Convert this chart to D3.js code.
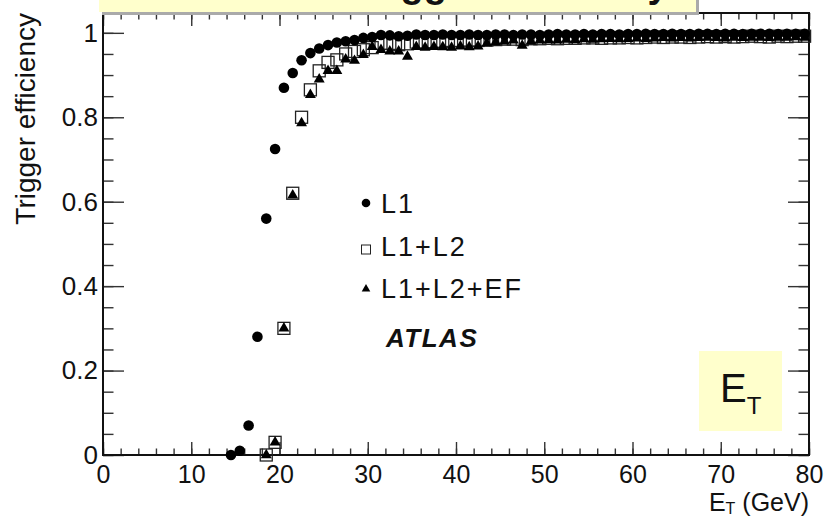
<!DOCTYPE html>
<html>
<head>
<meta charset="utf-8">
<script src="https://cdn.jsdelivr.net/npm/d3@7"></script>
<style>
  body { margin: 0; background: #fff; }
  svg text { font-family: "Liberation Sans", Arial, sans-serif; fill: #111; }
</style>
</head>
<body>
<div id="chart"></div>
<script>
// trigger efficiency vs E_T, 1 GeV bins
let l1Start = 14.5;
let l1Values = [0.0, 0.01, 0.07, 0.28, 0.56, 0.725, 0.87, 0.905, 0.935, 0.952,
  0.963, 0.971, 0.977, 0.98, 0.983, 0.988, 0.99, 0.995, 0.994, 0.992,
  0.993, 0.996, 0.995, 0.995, 0.996, 0.995,
  0.995, 0.996, 0.995, 0.995, 0.996, 0.996, 0.995, 0.996, 0.996, 0.995,
  0.996, 0.997, 0.996, 0.996, 0.997, 0.996, 0.997, 0.997, 0.996, 0.997,
  0.997, 0.998, 0.997, 0.997, 0.998, 0.997, 0.997, 0.998, 0.998, 0.997,
  0.998, 0.998, 0.997, 0.998, 0.998, 0.998, 0.997, 0.998, 0.998, 0.998];

let l2Start = 18.5;
let l2Values = [0.0, 0.03, 0.30, 0.62, 0.80, 0.865, 0.91, 0.93, 0.936, 0.95,
  0.956, 0.96, 0.965, 0.975, 0.975, 0.972, 0.974, 0.978, 0.977, 0.979,
  0.98, 0.982,
  0.981, 0.983, 0.982, 0.983, 0.984, 0.985, 0.985, 0.984, 0.986, 0.986,
  0.987, 0.986, 0.987, 0.987, 0.988, 0.988, 0.987, 0.988, 0.988, 0.989,
  0.988, 0.989, 0.99, 0.989, 0.99, 0.99, 0.989, 0.99, 0.991, 0.99,
  0.991, 0.99, 0.991, 0.992, 0.991, 0.99, 0.992, 0.991, 0.992, 0.992];

let efStart = 18.5;
let efValues = [0.0, 0.03, 0.30, 0.615, 0.786, 0.853, 0.89, 0.91, 0.91, 0.937,
  0.934, 0.948, 0.967, 0.96, 0.956, 0.956, 0.944, 0.967, 0.965, 0.967,
  0.966, 0.965,
  0.968, 0.966, 0.968, 0.975, 0.978, 0.98, 0.982, 0.97, 0.98, 0.982,
  0.983, 0.982, 0.984, 0.983, 0.985, 0.984, 0.985, 0.986, 0.985, 0.986,
  0.987, 0.986, 0.987, 0.988, 0.987, 0.988, 0.987, 0.988, 0.989, 0.988,
  0.987, 0.989, 0.988, 0.989, 0.989, 0.988, 0.989, 0.989, 0.99, 0.989];

let xMajor = [0, 10, 20, 30, 40, 50, 60, 70, 80];
let xMinor = d3.range(0, 81, 2);
let yMajor = [0, 0.2, 0.4, 0.6, 0.8, 1];
let yMinor = d3.range(0, 1.05, 0.05);
let legendLabels = ['L1', 'L1+L2', 'L1+L2+EF'];

function toPoints(start, values) {
  return values.map(function(v, i) { return { et: start + i, eff: v }; });
}

let margin = { top: 13, right: 18, bottom: 62, left: 103 };
let width = 827 - margin.left - margin.right;
let height = 517 - margin.top - margin.bottom;

let svg = d3.select('#chart')
  .append('svg')
  .attr('width', 827)
  .attr('height', 517);

let g = svg.append('g')
  .attr('transform', 'translate(' + margin.left + ', ' + margin.top + ')');

let x = d3.scaleLinear().domain([0, 80]).range([0, width]);
let y = d3.scaleLinear().domain([0, 1.047]).range([height, 0]);

// minor ticks, all four sides
function styleAxis(sel) {
  sel.select('.domain').remove();
  sel.selectAll('line').attr('stroke', '#333').attr('stroke-width', 1.4);
}

g.append('g').attr('transform', 'translate(0,' + height + ')')
  .call(d3.axisBottom(x).tickValues(xMinor).tickSize(-6.5).tickFormat(''))
  .call(styleAxis);
g.append('g')
  .call(d3.axisTop(x).tickValues(xMinor).tickSize(-6.5).tickFormat(''))
  .call(styleAxis);
g.append('g')
  .call(d3.axisLeft(y).tickValues(yMinor).tickSize(-10.5).tickFormat(''))
  .call(styleAxis);
g.append('g').attr('transform', 'translate(' + width + ',0)')
  .call(d3.axisRight(y).tickValues(yMinor).tickSize(-10.5).tickFormat(''))
  .call(styleAxis);

// major ticks
let xAxis = g.append('g').attr('transform', 'translate(0,' + height + ')')
  .call(d3.axisBottom(x).tickValues(xMajor).tickSize(-13).tickPadding(10).tickFormat(d3.format('d')))
  .call(styleAxis);
xAxis.selectAll('text').attr('font-size', '25px').attr('fill', '#111');
g.append('g')
  .call(d3.axisTop(x).tickValues(xMajor).tickSize(-13).tickFormat(''))
  .call(styleAxis);

let yAxis = g.append('g')
  .call(d3.axisLeft(y).tickValues(yMajor).tickSize(-21).tickPadding(5).tickFormat(function(d) { return d3.format('~g')(d); }))
  .call(styleAxis);
yAxis.selectAll('text').attr('font-size', '26px').attr('fill', '#111');
g.append('g').attr('transform', 'translate(' + width + ',0)')
  .call(d3.axisRight(y).tickValues(yMajor).tickSize(-21).tickFormat(''))
  .call(styleAxis);

// frame
g.append('rect')
  .attr('width', width)
  .attr('height', height)
  .attr('fill', 'none')
  .attr('stroke', '#111')
  .attr('stroke-width', 2);

// E_T label box
g.append('rect')
  .attr('x', 596).attr('y', 338)
  .attr('width', 83).attr('height', 80)
  .attr('fill', '#ffffcc');
let etBox = g.append('text')
  .attr('x', 617).attr('y', 389)
  .attr('font-size', '40px');
etBox.append('tspan').text('E');
etBox.append('tspan').attr('font-size', '24px').attr('dy', 12).text('T');

// data
g.append('g').selectAll('rect')
  .data(toPoints(l2Start, l2Values))
  .enter()
  .append('rect')
  .attr('x', function(d) { return x(d.et) - 6; })
  .attr('y', function(d) { return y(d.eff) - 6; })
  .attr('width', 12)
  .attr('height', 12)
  .attr('fill', 'none')
  .attr('stroke', '#222')
  .attr('stroke-width', 1.3);

let tri = d3.symbol().type(d3.symbolTriangle).size(52);
g.append('g').selectAll('path')
  .data(toPoints(efStart, efValues))
  .enter()
  .append('path')
  .attr('d', tri)
  .attr('transform', function(d) { return 'translate(' + x(d.et) + ',' + y(d.eff) + ')'; })
  .attr('fill', '#000');

g.append('g').selectAll('circle')
  .data(toPoints(l1Start, l1Values))
  .enter()
  .append('circle')
  .attr('cx', function(d) { return x(d.et); })
  .attr('cy', function(d) { return y(d.eff); })
  .attr('r', 5.3)
  .attr('fill', '#000');

// legend
let legend = g.append('g').attr('transform', 'translate(263, 0)');
legend.append('circle').attr('cx', 0).attr('cy', 190).attr('r', 4.3).attr('fill', '#000');
legend.append('rect').attr('x', -4.5).attr('y', 232).attr('width', 9).attr('height', 9)
  .attr('fill', 'none').attr('stroke', '#222').attr('stroke-width', 1);
legend.append('path').attr('d', d3.symbol().type(d3.symbolTriangle).size(32))
  .attr('transform', 'translate(0,276)').attr('fill', '#000');
legendLabels.forEach(function(lbl, i) {
  legend.append('text')
    .attr('x', 15)
    .attr('y', 200 + i * 42.5)
    .attr('font-size', '27px')
    .attr('letter-spacing', '2px')
    .text(lbl);
});
legend.append('text')
  .attr('x', 20).attr('y', 334)
  .attr('font-size', '26px')
  .attr('font-weight', 'bold')
  .attr('font-style', 'italic')
  .attr('letter-spacing', '1.5px')
  .text('ATLAS');

// axis titles
svg.append('text')
  .attr('transform', 'translate(35, 13) rotate(-90)')
  .attr('text-anchor', 'end')
  .attr('font-size', '28px')
  .text('Trigger efficiency');

let xTitle = svg.append('text')
  .attr('x', 809).attr('y', 511)
  .attr('text-anchor', 'end')
  .attr('font-size', '25px');
xTitle.append('tspan').text('E');
xTitle.append('tspan').attr('font-size', '16px').attr('dy', 3).text('T');
xTitle.append('tspan').attr('dy', -3).text(' (GeV)');

// title box at top, mostly cut off
svg.append('rect')
  .attr('x', 102).attr('y', -10)
  .attr('width', 597).attr('height', 25)
  .attr('fill', '#aaa');
svg.append('rect')
  .attr('x', 99).attr('y', -10)
  .attr('width', 597).attr('height', 22)
  .attr('fill', '#ffffcc');
svg.append('text')
  .attr('x', 354).attr('y', -3)
  .attr('font-size', '38px')
  .attr('font-weight', 'bold')
  .text('Trigger efficiency');
</script>
</body>
</html>
